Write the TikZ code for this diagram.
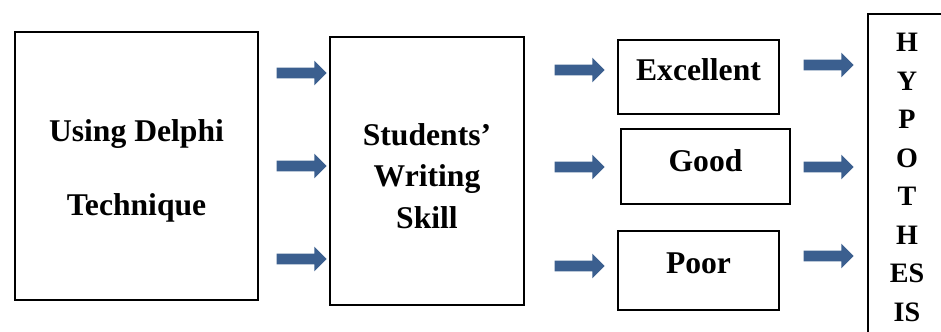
\documentclass[tikz,border=0pt]{standalone}
\usepackage{fontspec}
\setmainfont{Liberation Serif}
\usetikzlibrary{shapes.arrows}
\definecolor{arrowblue}{RGB}{59,95,143}
\begin{document}
\begin{tikzpicture}[font=\bfseries\fontsize{18}{22}\selectfont,
	box/.style={draw,line width=1.1pt,inner sep=0pt},
	flow/.style={single arrow,fill=arrowblue,draw=none,minimum height=1cm,
		inner sep=0.1cm,single arrow head extend=0.14cm,single arrow head indent=0pt}]
	\useasboundingbox (0,0) rectangle (18.82,6.64);
	\clip (0,0) rectangle (18.82,6.64);
	% main boxes
	\node[box,minimum width=4.86cm,minimum height=5.36cm] (delphi) at (2.73,3.32) {};
	\node[align=center,font=\bfseries\fontsize{18}{42}\selectfont] (delphitext)
		at ([yshift=-0.1cm]delphi.center) {Using Delphi\\Technique};
	\node[box,minimum width=3.88cm,minimum height=5.36cm] (skill) at (8.54,3.22) {};
	\node[align=center,font=\bfseries\fontsize{18}{23.5}\selectfont] (skilltext)
		at ([yshift=-0.1cm]skill.center) {Students'\\Writing\\Skill};
	% results
	\node[box,minimum width=3.22cm,minimum height=1.48cm] (excellent) at (13.97,5.10) {};
	\node (exctext) at ([yshift=0.14cm]excellent.center) {Excellent};
	\node[box,minimum width=3.38cm,minimum height=1.50cm] (good) at (14.11,3.31) {};
	\node (goodtext) at ([yshift=0.12cm]good.center) {Good};
	\node[box,minimum width=3.22cm,minimum height=1.58cm] (poor) at (13.97,1.23) {};
	\node (poortext) at ([yshift=0.14cm]poor.center) {Poor};
	% hypothesis column
	\node[box,anchor=north west,minimum width=2.4cm,minimum height=7cm] (hyp) at (17.34,6.38) {};
	\node[align=center,font=\bfseries\fontsize{16}{21.9}\selectfont] (hyptext) at (18.14,3.09)
		{H\\Y\\P\\O\\T\\H\\ES\\IS};
	% arrows
	\foreach \y [count=\i] in {5.18,3.32,1.46}
		\node[flow] (a\i) at (5.98,\y) {};
	\foreach \y [count=\i] in {5.24,3.30,1.32}
		\node[flow] (b\i) at (11.54,\y) {};
	\foreach \y [count=\i] in {5.34,3.30,1.52}
		\node[flow] (c\i) at (16.52,\y) {};
\end{tikzpicture}
\end{document}
